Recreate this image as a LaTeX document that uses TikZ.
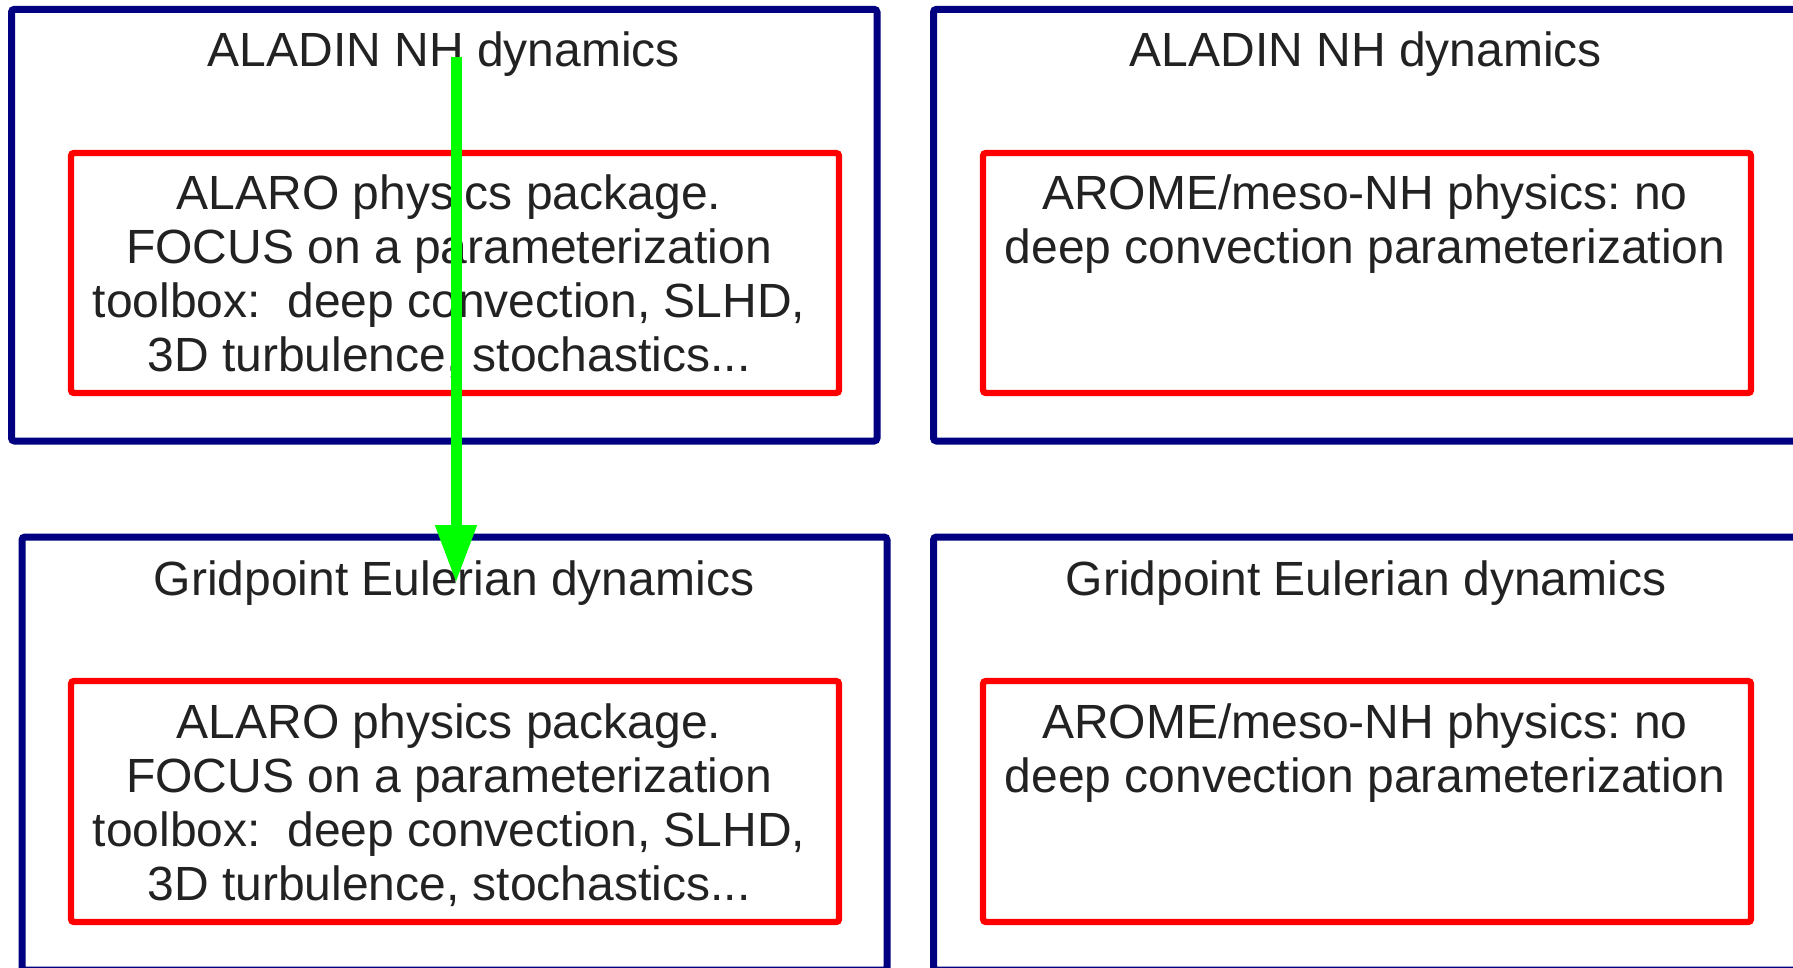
\documentclass[tikz,border=0pt]{standalone}
\usepackage{fontspec}
\setmainfont{Liberation Sans}
\usetikzlibrary{arrows.meta}
\definecolor{boxblue}{HTML}{000080}
\definecolor{boxred}{HTML}{FF0000}
\definecolor{arrowgreen}{HTML}{00FF00}
\definecolor{txt}{HTML}{222222}
\tikzset{
  outerbox/.style={draw=boxblue, line width=3.5pt, rounded corners=1.5pt, inner sep=0pt, outer sep=0pt, anchor=north west},
  innerbox/.style={draw=boxred, line width=3.2pt, rounded corners=1.5pt, inner sep=0pt, outer sep=0pt, anchor=north west},
  titletext/.style={font=\fontsize{24}{27}\selectfont, text=txt, anchor=base, inner sep=0pt},
  bodytext/.style={font=\fontsize{24}{27}\selectfont, text=txt, anchor=base, inner sep=0pt},
  flowarrow/.style={draw=arrowgreen, line width=5.5pt, -{Triangle[length=29pt,width=19.5pt]}}
}
\newcommand{\bodylines}[1]{\begin{tabular}[t]{@{}c@{}}#1\end{tabular}}
\begin{document}
\frenchspacing
\begin{tikzpicture}[x=0.5pt,y=-0.5pt]
\useasboundingbox (0,0) rectangle (1793,968);
\clip (0,0) rectangle (1793,968);
\fill[white] (0,0) rectangle (1793,968);
% outer blue boxes
\node[outerbox, minimum width=432.75pt, minimum height=215.85pt] (tl) at (11.5,9.3) {};
\node[outerbox, minimum width=433pt, minimum height=215.85pt] (tr) at (933.5,9.3) {};
\node[outerbox, minimum width=432.5pt, minimum height=216.5pt] (bl) at (22,537) {};
\node[outerbox, minimum width=433pt, minimum height=216.5pt] (br) at (933.5,537) {};
% inner red boxes
\node[innerbox, minimum width=384pt, minimum height=120pt] (tlin) at (71,153) {};
\node[innerbox, minimum width=384pt, minimum height=120pt] (trin) at (983,153) {};
\node[innerbox, minimum width=384pt, minimum height=120.5pt] (blin) at (71,681) {};
\node[innerbox, minimum width=384pt, minimum height=120.5pt] (brin) at (983,681) {};
% titles
\node[titletext] (tlt) at (444,67) {ALADIN NH dynamics};
\node[titletext] (trt) at (1366,67) {ALADIN NH dynamics};
\node[titletext] (blt) at (454,595) {Gridpoint Eulerian dynamics};
\node[titletext] (brt) at (1366,595) {Gridpoint Eulerian dynamics};
% body texts
\node[bodytext] (tlb) at (449,210) {\bodylines{ALARO physics package.\\FOCUS on a parameterization\\toolbox:\ \ deep convection, SLHD,\\3D turbulence, stochastics...}};
\node[bodytext] (trb) at (1365,210) {\bodylines{AROME/meso-NH physics: no\\deep convection parameterization}};
\node[bodytext] (blb) at (449,738) {\bodylines{ALARO physics package.\\FOCUS on a parameterization\\toolbox:\ \ deep convection, SLHD,\\3D turbulence, stochastics...}};
\node[bodytext] (brb) at (1365,738) {\bodylines{AROME/meso-NH physics: no\\deep convection parameterization}};
% green arrow
\coordinate (arrowstart) at (456,57);
\coordinate (arrowend) at (456,583);
\draw[flowarrow] (arrowstart) -- (arrowend);
\end{tikzpicture}
\end{document}
